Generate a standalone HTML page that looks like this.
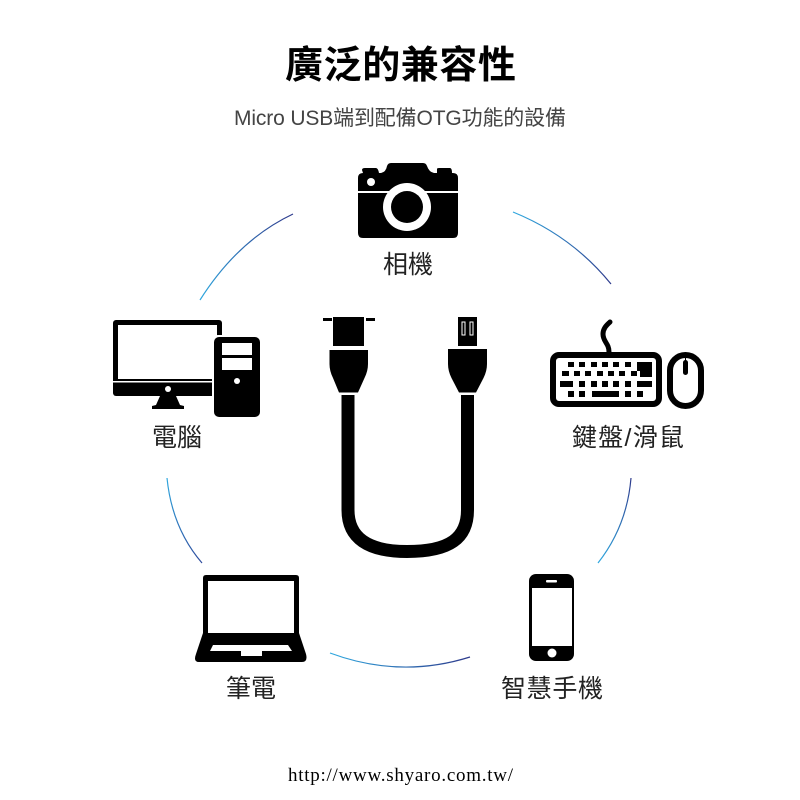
<!DOCTYPE html>
<html lang="zh-Hant">
<head>
<meta charset="utf-8">
<title>廣泛的兼容性</title>
<style>
html,body{margin:0;padding:0;background:#fff;width:800px;height:800px;overflow:hidden}
svg{display:block}
.cjk{font-family:"Liberation Sans","Noto Sans CJK TC",sans-serif;fill:#222}
</style>
</head>
<body>
<svg width="800" height="800" viewBox="0 0 800 800" xmlns="http://www.w3.org/2000/svg">
<defs>
<linearGradient id="g1" gradientUnits="userSpaceOnUse" x1="200" y1="300" x2="293" y2="214"><stop offset="0" stop-color="#2fa8df"/><stop offset="1" stop-color="#2e3a8c"/></linearGradient>
<linearGradient id="g2" gradientUnits="userSpaceOnUse" x1="513" y1="212" x2="611" y2="284"><stop offset="0" stop-color="#2fa8df"/><stop offset="1" stop-color="#2e3a8c"/></linearGradient>
<linearGradient id="g3" gradientUnits="userSpaceOnUse" x1="598" y1="563" x2="631" y2="478"><stop offset="0" stop-color="#2fa8df"/><stop offset="1" stop-color="#2e3a8c"/></linearGradient>
<linearGradient id="g4" gradientUnits="userSpaceOnUse" x1="330" y1="653" x2="470" y2="657"><stop offset="0" stop-color="#2fa8df"/><stop offset="1" stop-color="#2e3a8c"/></linearGradient>
<linearGradient id="g5" gradientUnits="userSpaceOnUse" x1="167" y1="478" x2="202" y2="563"><stop offset="0" stop-color="#2fa8df"/><stop offset="1" stop-color="#2e4a9c"/></linearGradient>
</defs>

<!-- headings -->
<text class="cjk" x="285" y="78" font-size="38" font-weight="700" textLength="231" lengthAdjust="spacing" style="fill:#000">廣泛的兼容性</text>
<text class="cjk" x="234" y="125" font-size="21" textLength="332" lengthAdjust="spacing" style="fill:#444">Micro USB端到配備OTG功能的設備</text>

<!-- arcs -->
<g fill="none" stroke-width="1.2">
<path d="M200 300 Q238 240 293 214" stroke="url(#g1)"/>
<path d="M513 212 Q572 236 611 284" stroke="url(#g2)"/>
<path d="M598 563 Q627 526 631 478" stroke="url(#g3)"/>
<path d="M330 653 Q400 679 470 657" stroke="url(#g4)"/>
<path d="M167 478 Q172 528 202 563" stroke="url(#g5)"/>
</g>

<!-- camera -->
<g fill="#000">
<path d="M358 178 Q358 173 363 173 L362 170 Q362 168 365 168 L376 168 Q378 168 379 173 L381 173 Q386 172 387 166 Q388 163 391 163 L423 163 Q426 163 427 166 Q429 172 434 173 L437 173 L437 169 Q437 168 439 168 L450 168 Q452 168 452 173 L453 173 Q458 173 458 178 L458 191 L358 191 Z"/>
<path d="M358 193 L458 193 L458 233 Q458 238 453 238 L363 238 Q358 238 358 233 Z"/>
<circle cx="407" cy="207" r="24" fill="#fff"/>
<circle cx="407" cy="207" r="16"/>
<circle cx="371" cy="182" r="4" fill="#fff"/>
</g>
<text class="cjk" x="383" y="273" font-size="25" textLength="50" lengthAdjust="spacing">相機</text>

<!-- cable -->
<g fill="#000">
<rect x="323" y="318" width="9" height="3"/>
<rect x="366" y="318" width="9" height="3"/>
<rect x="333" y="317" width="31" height="29"/>
<path d="M329.500 350 L368 350 L368 364 Q368 371 364.500 378 L358 392.500 L339 392.500 L333 378 Q329.500 371 329.500 364 Z"/>
<rect x="458" y="317" width="19" height="29"/>
<path d="M448 349 L487 349 L487 364 Q487 371 483.500 378 L476 392.500 L459 392.500 L451.500 378 Q448 371 448 364 Z"/>
<path d="M462 322 V335 H465 V322 Z M470 322 V335 H473 V322 Z" fill="none" stroke="#fff" stroke-width="1"/>
</g>
<path d="M348 395 V510 C348 538 368 551.500 407 551.500 C 450 551.500 467.500 538 467.500 510 V395" fill="none" stroke="#000" stroke-width="13"/>

<!-- computer -->
<g fill="#000">
<rect x="113" y="320" width="109" height="76" rx="3"/>
<rect x="118" y="325" width="99" height="54" fill="#fff"/>
<rect x="113" y="381" width="109" height="1.500" fill="#fff"/>
<path d="M160 396 L176 396 L180 405 L184 406 L184 409 L152 409 L152 406 L156 405 Z"/>
<circle cx="168" cy="389" r="3" fill="#fff"/>
<rect x="212" y="335" width="50" height="84" rx="6" fill="#fff"/>
<rect x="214" y="337" width="46" height="80" rx="5"/>
<rect x="222" y="343" width="30" height="12" fill="#fff"/>
<rect x="222" y="358" width="30" height="12" fill="#fff"/>
<circle cx="237" cy="381" r="3" fill="#fff"/>
</g>
<text class="cjk" x="152" y="446" font-size="25" textLength="50" lengthAdjust="spacing">電腦</text>

<!-- keyboard + mouse -->
<g fill="#000">
<path d="M609 352 C609 343 603 342 603 334 C603 328 607 325 610 322" fill="none" stroke="#000" stroke-width="5" stroke-linecap="round"/>
<rect x="553" y="355" width="106" height="49" rx="6" fill="#fff" stroke="#000" stroke-width="6"/>
<g>
<rect x="568" y="362" width="6" height="5"/><rect x="579" y="362" width="6" height="5"/><rect x="591" y="362" width="6" height="5"/><rect x="602" y="362" width="6" height="5"/><rect x="613" y="362" width="6" height="5"/><rect x="625" y="362" width="6" height="5"/>
<path d="M637 362 H652 V377 H640 V371 H637 Z"/>
<rect x="562" y="371" width="7" height="5"/><rect x="574" y="371" width="6" height="5"/><rect x="585" y="371" width="6" height="5"/><rect x="597" y="371" width="6" height="5"/><rect x="608" y="371" width="6" height="5"/><rect x="619" y="371" width="6" height="5"/><rect x="631" y="371" width="6" height="5"/>
<rect x="560" y="381" width="13" height="6"/><rect x="579" y="381" width="6" height="6"/><rect x="591" y="381" width="6" height="6"/><rect x="602" y="381" width="6" height="6"/><rect x="613" y="381" width="6" height="6"/><rect x="625" y="381" width="6" height="6"/><rect x="637" y="381" width="15" height="6"/>
<rect x="568" y="391" width="6" height="6"/><rect x="579" y="391" width="6" height="6"/><rect x="592" y="391" width="27" height="6"/><rect x="625" y="391" width="6" height="6"/><rect x="637" y="391" width="6" height="6"/>
</g>
<rect x="670" y="355" width="31" height="51" rx="15.500" fill="#fff" stroke="#000" stroke-width="6"/>
<rect x="683" y="360" width="5" height="15" rx="2.500"/>
<rect x="685" y="355" width="1" height="6"/>
</g>
<text class="cjk" x="572" y="446" font-size="25" textLength="112" lengthAdjust="spacing">鍵盤/滑鼠</text>

<!-- laptop -->
<g fill="#000">
<path d="M203 578 Q203 575 206 575 L296 575 Q299 575 299 578 L299 634 L203 634 Z"/>
<rect x="208" y="581" width="86" height="52" fill="#fff"/>
<path d="M203 633 L299 633 L306 654 Q308 662 302 662 L199 662 Q193 662 196 654 Z"/>
<path d="M213 645 L288 645 L292 651 L262 651 L262 656 L241 656 L241 651 L210 651 Z" fill="#fff"/>
</g>
<text class="cjk" x="226" y="697" font-size="25" textLength="50" lengthAdjust="spacing">筆電</text>

<!-- phone -->
<g fill="#000">
<rect x="529" y="574" width="45" height="87" rx="7"/>
<rect x="532" y="588" width="40" height="58" fill="#fff"/>
<rect x="546" y="580" width="11" height="2.500" rx="1" fill="#fff"/>
<circle cx="552" cy="653" r="4.500" fill="#fff"/>
</g>
<text class="cjk" x="501" y="697" font-size="25" textLength="102" lengthAdjust="spacing">智慧手機</text>

<!-- url -->
<text x="288" y="781" font-family="'Liberation Serif',serif" font-size="19" fill="#000" textLength="225" lengthAdjust="spacing">http://www.shyaro.com.tw/</text>
</svg>
</body>
</html>
